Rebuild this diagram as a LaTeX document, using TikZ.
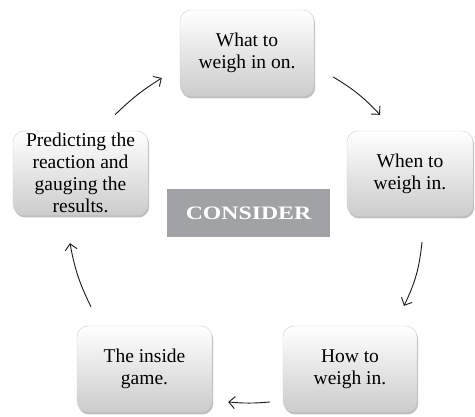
\documentclass[tikz,border=0pt]{standalone}
\usepackage{fontspec}
\setmainfont{Liberation Serif}
\usepackage{tikz}
\usetikzlibrary{arrows.meta, shadows, calc}
\tikzset{
    card/.style={
        rectangle,
        rounded corners=11pt,
        draw=black!18,
        line width=0.4pt,
        top color=white,
        middle color=white!96!black,
        bottom color=black!20,
        drop shadow={opacity=0.5, shadow xshift=1.2pt, shadow yshift=-2.5pt},
        minimum width=134pt,
        minimum height=86pt,
        align=center,
        inner sep=2pt,
        font=\fontsize{19.5}{22}\selectfont
    },
    tag/.style={
        rectangle,
        fill=cgray,
        minimum width=163pt,
        minimum height=48pt,
        text=white,
        font=\fontsize{19}{22}\selectfont\bfseries\addfontfeature{FakeStretch=1.25}
    },
    cyc/.style={
        draw=black!90,
        line width=0.9pt,
        -{Straight Barb[length=6pt, width=12pt, line width=0.9pt]}
    }
}
\definecolor{cgray}{HTML}{A0A2A5}

\begin{document}
\begin{tikzpicture}[x=1pt, y=1pt]

\useasboundingbox (0,0) rectangle (475,417);

\node[card] (what) at (247,364) {What to\\weigh in on.};
\node[card, minimum width=126pt, minimum height=85pt] (when) at (410,243.5) {When to\\weigh in.};
\node[card] (how) at (350,48) {How to\\weigh in.};
\node[card, minimum width=135pt] (inside) at (144.5,48) {The inside\\game.};
\node[card, minimum width=135pt, minimum height=84pt] (predict) at (80.5,244) {Predicting the\\reaction and\\gauging the\\results.};

\node[tag] (consider) at (248.5,204) {CONSIDER};

\draw[cyc] ([xshift=34.5pt, yshift=16pt]predict.north) to[bend left=6] ([xshift=-18pt, yshift=-25pt]what.west);
\draw[cyc] ([xshift=19pt, yshift=-24pt]what.east) to[bend left=8] ([xshift=-30pt, yshift=16pt]when.north);
\draw[cyc] ([xshift=12pt, yshift=-26pt]when.south) to[bend left=10] ([xshift=54pt, yshift=20pt]how.north);
\draw[cyc] ([xshift=-13pt, yshift=-33pt]how.west) to[bend left=5] ([xshift=16pt, yshift=-33pt]inside.east);
\draw[cyc] ([xshift=-53.5pt, yshift=19pt]inside.north) to[bend left=8] ([xshift=-10.5pt, yshift=-28pt]predict.south);

\end{tikzpicture}
\end{document}
